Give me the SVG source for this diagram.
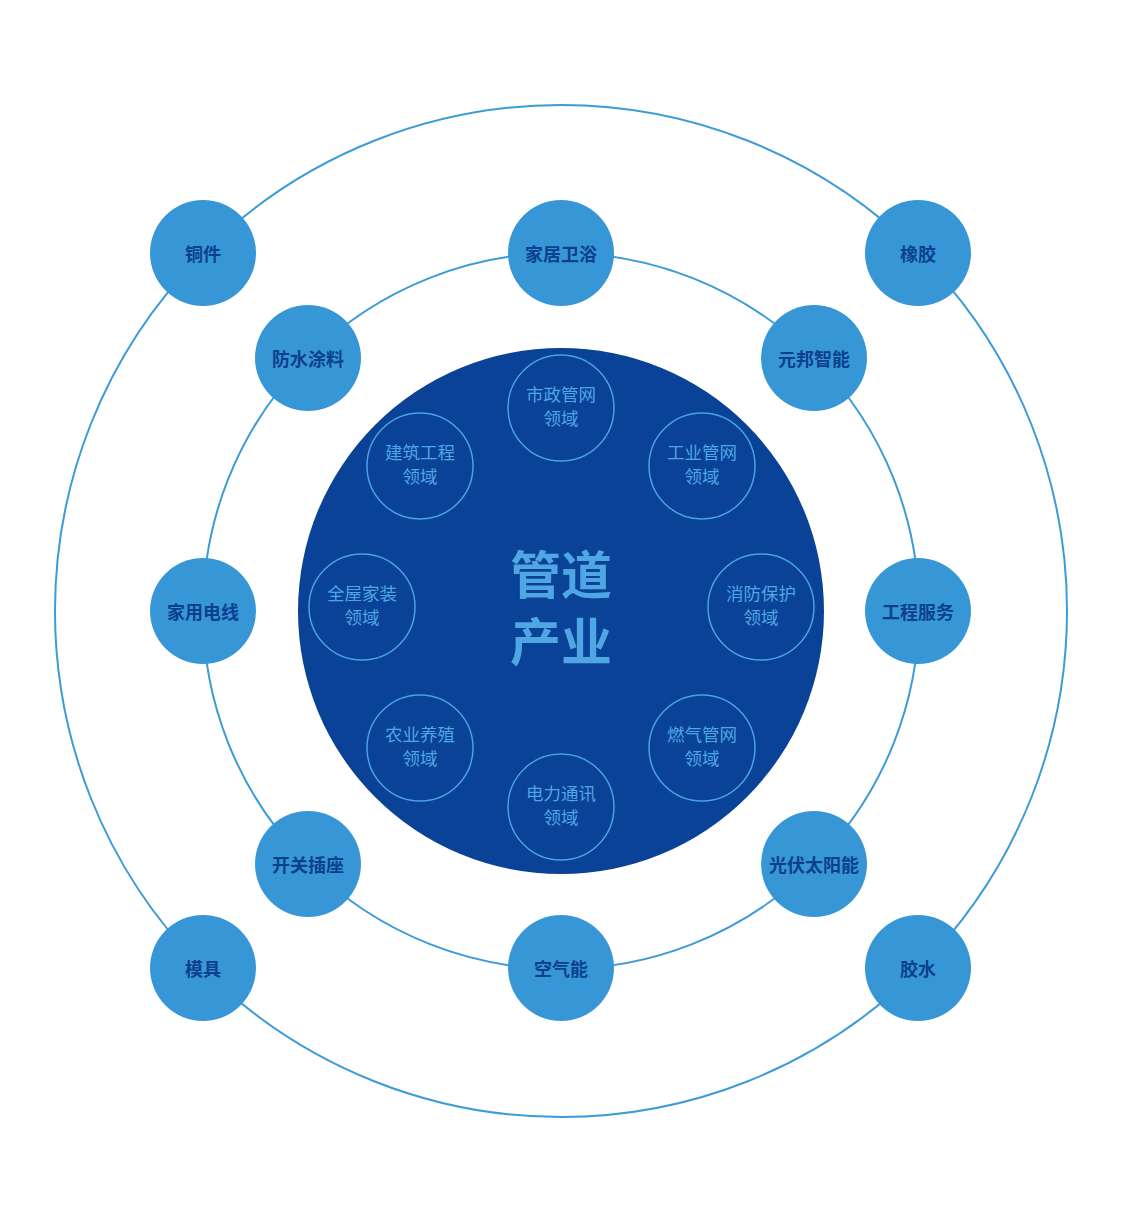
<svg xmlns="http://www.w3.org/2000/svg" width="1128" height="1225" viewBox="0 0 1128 1225">
<style>
.ring{fill:none;stroke:#3d9bd7;stroke-width:2}
.node{fill:#3797d6}
.nt{font-family:"Noto Sans CJK SC","Noto Sans",sans-serif;font-size:18px;font-weight:bold;fill:#0c3f8e;text-anchor:middle;dominant-baseline:central}
.sub{fill:none;stroke:#4aa2e0;stroke-width:1.5}
.st{font-family:"Noto Sans CJK SC","Noto Sans",sans-serif;font-size:17.5px;fill:#4ea6e2;text-anchor:middle}
.ct{font-family:"Noto Sans CJK SC","Noto Sans",sans-serif;font-size:51px;font-weight:bold;fill:#4ea6e2;text-anchor:middle}
</style>
<rect width="1128" height="1225" fill="#ffffff"/>
<g id="connectors">
<circle class="ring" cx="561" cy="611" r="506"/>
<circle class="ring" cx="561" cy="611" r="358"/>
</g>
<g id="core">
<circle cx="561" cy="611" r="263" fill="#0a4298"/>
<text class="ct" x="561" y="594">管道</text>
<text class="ct" x="561" y="661">产业</text>
</g>
<g id="sub-shizheng"><circle class="sub" cx="561" cy="408" r="53"/><text class="st" x="561" y="401">市政管网</text><text class="st" x="561" y="425">领域</text></g>
<g id="sub-gongye"><circle class="sub" cx="702" cy="466" r="53"/><text class="st" x="702" y="459">工业管网</text><text class="st" x="702" y="483">领域</text></g>
<g id="sub-xiaofang"><circle class="sub" cx="761" cy="607" r="53"/><text class="st" x="761" y="600">消防保护</text><text class="st" x="761" y="624">领域</text></g>
<g id="sub-ranqi"><circle class="sub" cx="702" cy="748" r="53"/><text class="st" x="702" y="741">燃气管网</text><text class="st" x="702" y="765">领域</text></g>
<g id="sub-dianli"><circle class="sub" cx="561" cy="807" r="53"/><text class="st" x="561" y="800">电力通讯</text><text class="st" x="561" y="824">领域</text></g>
<g id="sub-nongye"><circle class="sub" cx="420" cy="748" r="53"/><text class="st" x="420" y="741">农业养殖</text><text class="st" x="420" y="765">领域</text></g>
<g id="sub-quanwu"><circle class="sub" cx="362" cy="607" r="53"/><text class="st" x="362" y="600">全屋家装</text><text class="st" x="362" y="624">领域</text></g>
<g id="sub-jianzhu"><circle class="sub" cx="420" cy="466" r="53"/><text class="st" x="420" y="459">建筑工程</text><text class="st" x="420" y="483">领域</text></g>
<g id="n-jiaju"><circle class="node" cx="561" cy="253" r="53"/><text class="nt" x="561" y="253">家居卫浴</text></g>
<g id="n-yuanbang"><circle class="node" cx="814" cy="358" r="53"/><text class="nt" x="814" y="358">元邦智能</text></g>
<g id="n-gongcheng"><circle class="node" cx="918" cy="611" r="53"/><text class="nt" x="918" y="611">工程服务</text></g>
<g id="n-guangfu"><circle class="node" cx="814" cy="864" r="53"/><text class="nt" x="814" y="864">光伏太阳能</text></g>
<g id="n-kongqi"><circle class="node" cx="561" cy="968" r="53"/><text class="nt" x="561" y="968">空气能</text></g>
<g id="n-kaiguan"><circle class="node" cx="308" cy="864" r="53"/><text class="nt" x="308" y="864">开关插座</text></g>
<g id="n-dianxian"><circle class="node" cx="203" cy="611" r="53"/><text class="nt" x="203" y="611">家用电线</text></g>
<g id="n-fangshui"><circle class="node" cx="308" cy="358" r="53"/><text class="nt" x="308" y="358">防水涂料</text></g>
<g id="n-tongjian"><circle class="node" cx="203" cy="253" r="53"/><text class="nt" x="203" y="253">铜件</text></g>
<g id="n-xiangjiao"><circle class="node" cx="918" cy="253" r="53"/><text class="nt" x="918" y="253">橡胶</text></g>
<g id="n-muju"><circle class="node" cx="203" cy="968" r="53"/><text class="nt" x="203" y="968">模具</text></g>
<g id="n-jiaoshui"><circle class="node" cx="918" cy="968" r="53"/><text class="nt" x="918" y="968">胶水</text></g>
</svg>
